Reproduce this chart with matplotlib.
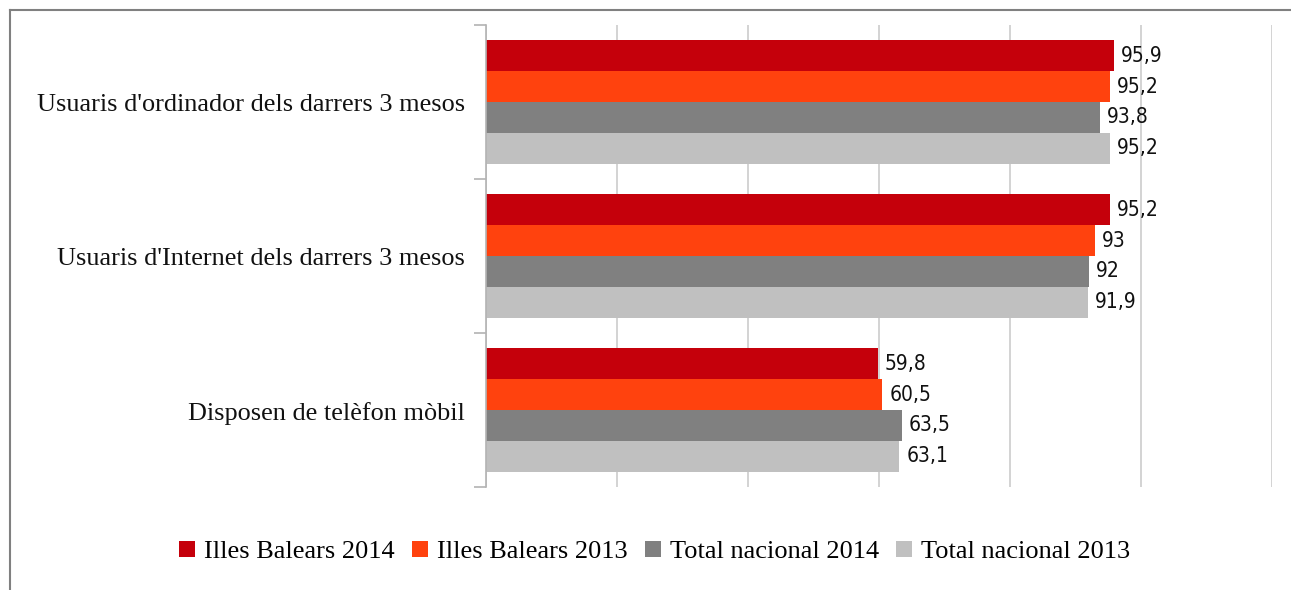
import numpy as np
import matplotlib.pyplot as plt
from matplotlib.patches import Patch
from matplotlib.lines import Line2D

categories = ["Usuaris d'ordinador dels darrers 3 mesos",
              "Usuaris d'Internet dels darrers 3 mesos",
              "Disposen de telèfon mòbil"]
series = ["Illes Balears 2014", "Illes Balears 2013",
          "Total nacional 2014", "Total nacional 2013"]
ib2014 = [95.9, 95.2, 59.8]
ib2013 = [95.2, 93.0, 60.5]
tn2014 = [93.8, 92.0, 63.5]
tn2013 = [95.2, 91.9, 63.1]
colors = ['#C5000B', '#FF420E', '#808080', '#C0C0C0']

fig = plt.figure(figsize=(12.91, 5.90), dpi=100)
ax = fig.add_axes([486/1291, 1-487/590, (1272-486)/1291, (487-25)/590])

vals = [ib2014, ib2013, tn2014, tn2013]
y = np.arange(len(categories))
h = 0.2
for i, v in enumerate(vals):
    pos = y - 0.3 + i*h
    bars = ax.barh(pos, v, height=h, color=colors[i], label=series[i])
    labs = [('%g' % x).replace('.', ',') for x in v]
    ax.bar_label(bars, labels=labs, padding=5, fontsize=15,
                 family='DejaVu Sans', fontstretch='condensed', color='#111111')

ax.set_xlim(0, 120)
ax.set_ylim(2.5, -0.5)
ax.set_xticks(np.arange(0, 121, 20))
ax.set_xticklabels([])
ax.tick_params(axis='x', length=0)
ax.grid(axis='x', color='#cccccc', linewidth=1.2)
ax.set_axisbelow(True)
ax.set_yticks([-0.5, 0.5, 1.5, 2.5])
ax.set_yticklabels([])
ax.tick_params(axis='y', length=9, color='#b3b3b3', width=1.2)
for s in ['top', 'right', 'bottom']:
    ax.spines[s].set_visible(False)
ax.spines['left'].set_color('#b3b3b3')
ax.spines['left'].set_linewidth(1.2)

for i, c in enumerate(categories):
    ax.text(-0.027, i + 0.02, c, transform=ax.get_yaxis_transform(), ha='right', va='center',
            fontsize=18.9, family='Liberation Serif', color='#111111')

handles = [Patch(facecolor=c, edgecolor='none') for c in colors]
fig.legend(handles, series, loc='center', bbox_to_anchor=(655/1291, 1-552/590), ncol=4,
           frameon=False, prop={'family': 'Liberation Serif', 'size': 19},
           handlelength=0.6, handleheight=0.6, handletextpad=0.35, columnspacing=0.65)

# outer frame (left and top edges)
fig.add_artist(Line2D([10/1291, 10/1291], [0, 1-10/590], transform=fig.transFigure, color='#808080', lw=1.5))
fig.add_artist(Line2D([10/1291, 1], [1-10/590, 1-10/590], transform=fig.transFigure, color='#808080', lw=1.5))

fig.savefig('out.png', dpi=100)
